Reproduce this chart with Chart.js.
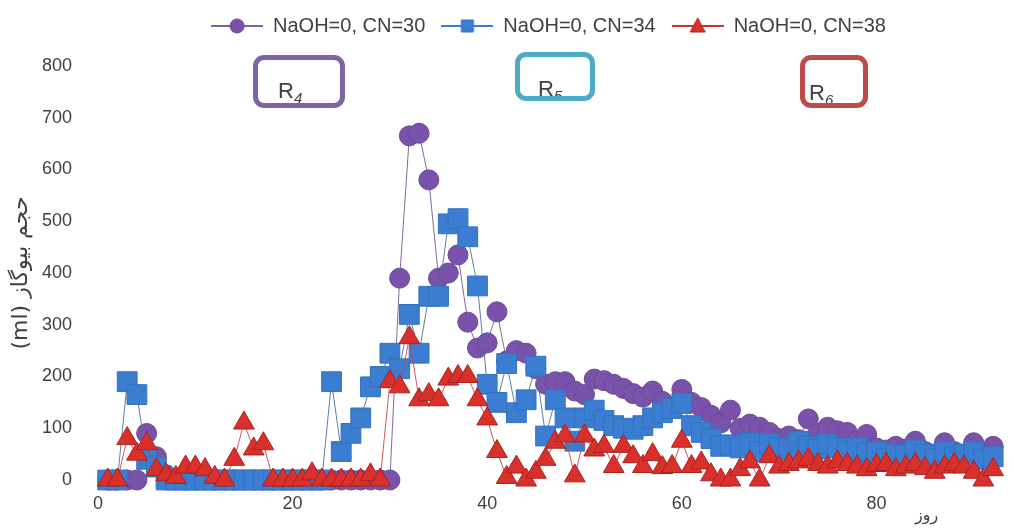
<!DOCTYPE html>
<html>
<head>
<meta charset="utf-8">
<script src="https://cdn.jsdelivr.net/npm/chart.js@4.4.1/dist/chart.umd.min.js"></script>
<style>
  html, body { margin: 0; padding: 0; background: #fff; }
  #wrap { position: relative; width: 1014px; height: 529px; overflow: hidden; }
  #chart { display: block; }
  .tag { position: absolute; box-sizing: border-box; border: 5px solid; border-radius: 11px; overflow: hidden;
         font-family: 'Liberation Sans', 'DejaVu Sans', sans-serif; color: #404040; background: #fff; }
  .tag span { position: absolute; font-size: 22px; line-height: 22px; }
  .tag sub { font-size: 15px; font-style: italic; vertical-align: -5px; }
  #xTitle { position: absolute; left: 915px; top: 505px; font: 16px 'DejaVu Sans', sans-serif; color: #404040; direction: rtl; }
</style>
</head>
<body>
<div id="wrap">
  <canvas id="chart" width="1014" height="529" dir="rtl"></canvas>
  <div class="tag" style="left:253px;top:55px;width:92px;height:53px;border-color:#7e64a6;"><span style="left:20px;top:20px;">R<sub>4</sub></span></div>
  <div class="tag" style="left:515px;top:52px;width:80px;height:49px;border-color:#4bacc6;"><span style="left:18px;top:21px;">R<sub>5</sub></span></div>
  <div class="tag" style="left:800px;top:55px;width:68px;height:53px;border-color:#bf4b48;"><span style="left:4px;top:22px;">R<sub>6</sub></span></div>
  <div id="xTitle">روز</div>
</div>
<script>
// --- DATA ---
const days = [1, 2, 3, 4, 5, 6, 7, 8, 9, 10, 11, 12, 13, 14, 15, 16, 17, 18, 19, 20,
  21, 22, 23, 24, 25, 26, 27, 28, 29, 30, 31, 32, 33, 34, 35, 36, 37, 38, 39, 40,
  41, 42, 43, 44, 45, 46, 47, 48, 49, 50, 51, 52, 53, 54, 55, 56, 57, 58, 59, 60,
  61, 62, 63, 64, 65, 66, 67, 68, 69, 70, 71, 72, 73, 74, 75, 76, 77, 78, 79, 80,
  81, 82, 83, 84, 85, 86, 87, 88, 89, 90, 91, 92];

const cn30 = [0, 0, 0, 0, 90, 45, 10, 0, 0, 0, 0, 0, 0, 0, 0, 0, 0, 0, 0, 0,
  0, 0, 0, 0, 0, 0, 0, 0, 0, 0, 390, 665, 670, 580, 390, 400, 435, 305, 255, 265,
  325, 230, 250, 245, 215, 185, 190, 190, 172, 165, 195, 192, 185, 177, 167, 160, 172, 152, 140, 175,
  150, 140, 125, 110, 135, 100, 108, 102, 92, 80, 85, 78, 118, 90, 102, 95, 92, 75, 88, 62,
  58, 65, 60, 75, 55, 50, 72, 55, 48, 72, 52, 65];

const cn34 = [0, 0, 190, 165, 40, 25, 0, 0, 0, 0, 0, 0, 0, 0, 0, 0, 0, 0, 0, 0,
  0, 0, 0, 190, 55, 90, 120, 180, 200, 245, 215, 320, 245, 355, 355, 495, 505, 470, 375, 185,
  150, 225, 130, 155, 220, 85, 155, 120, 75, 120, 135, 115, 105, 100, 98, 105, 120, 130, 138, 148,
  105, 92, 80, 65, 68, 62, 72, 55, 70, 62, 58, 75, 65, 60, 70, 62, 55, 62, 52, 55,
  42, 50, 48, 58, 50, 42, 55, 45, 50, 55, 40, 45];

const cn38 = [0, 0, 80, 50, 70, 20, 10, 5, 25, 25, 20, 5, 0, 40, 110, 60, 70, 0, 0, 0,
  0, 12, 0, 0, 0, 0, 0, 10, 0, 190, 180, 275, 155, 165, 155, 195, 200, 200, 155, 118,
  55, 5, 25, 0, 15, 40, 73, 85, 8, 85, 58, 65, 26, 65, 45, 26, 49, 24, 26, 75,
  26, 33, 10, 0, 0, 20, 35, 0, 45, 25, 30, 35, 40, 30, 25, 35, 30, 25, 20, 28,
  30, 20, 25, 30, 22, 15, 25, 30, 25, 15, 0, 20];

const seriesNames = ['NaOH=0, CN=30', 'NaOH=0, CN=34', 'NaOH=0, CN=38'];
const xTicks = [0, 20, 40, 60, 80];
const yTicks = [0, 100, 200, 300, 400, 500, 600, 700, 800];

// --- STYLE ---
const purple = '#7b52ab';
const blue = '#3b7dd0';
const red = '#d9302c';
const textColor = '#404040';

Chart.defaults.font.family = "'Liberation Sans', 'DejaVu Sans', sans-serif";
Chart.defaults.color = textColor;

// legend icon: line with marker in the middle
function makeIcon(shape, fill, stroke, lineColor) {
  const c = document.createElement('canvas');
  c.width = 52;
  c.height = 20;
  const g = c.getContext('2d');
  g.strokeStyle = lineColor;
  g.lineWidth = 2;
  g.beginPath();
  g.moveTo(0, 10);
  g.lineTo(52, 10);
  g.stroke();
  g.fillStyle = fill;
  g.strokeStyle = stroke;
  g.lineWidth = 1;
  g.beginPath();
  if (shape === 'circle') {
    g.arc(26, 10, 7, 0, Math.PI * 2);
  } else if (shape === 'rect') {
    g.rect(20, 4, 12, 12);
  } else {
    g.moveTo(26, 2);
    g.lineTo(33.5, 16);
    g.lineTo(18.5, 16);
    g.closePath();
  }
  g.fill();
  g.stroke();
  return c;
}

const icons = [
  makeIcon('circle', purple, '#6a4a94', '#7d62aa'),
  makeIcon('rect', blue, '#3372c0', '#3b7dd0'),
  makeIcon('triangle', red, '#a8231f', '#c0393a'),
];

function toPoints(values) {
  return days.map((d, i) => ({ x: d, y: values[i] }));
}

new Chart(document.getElementById('chart'), {
  type: 'line',
  data: {
    datasets: [
      {
        label: seriesNames[0],
        data: toPoints(cn30),
        order: 3,
        borderColor: 'rgba(110,90,150,0.9)',
        borderWidth: 1,
        pointStyle: 'circle',
        pointRadius: 10,
        pointBackgroundColor: purple,
        pointBorderColor: '#6a4a94',
        pointBorderWidth: 1,
        clip: false,
      },
      {
        label: seriesNames[1],
        data: toPoints(cn34),
        order: 2,
        borderColor: 'rgba(80,110,160,0.9)',
        borderWidth: 1,
        pointStyle: 'rect',
        pointRadius: 14,
        pointBackgroundColor: blue,
        pointBorderColor: '#3372c0',
        pointBorderWidth: 1,
        clip: false,
      },
      {
        label: seriesNames[2],
        data: toPoints(cn38),
        order: 1,
        borderColor: 'rgba(200,70,70,0.9)',
        borderWidth: 1,
        pointStyle: 'triangle',
        pointRadius: 12,
        pointBackgroundColor: red,
        pointBorderColor: '#a8231f',
        pointBorderWidth: 1,
        clip: false,
      },
    ],
  },
  options: {
    responsive: false,
    animation: false,
    layout: { padding: { top: 0, right: 2, bottom: 0, left: 0 } },
    plugins: {
      legend: {
        position: 'top',
        fullSize: false,
        labels: {
          usePointStyle: true,
          pointStyleWidth: 52,
          padding: 16,
          color: textColor,
          font: { size: 20 },
          sort: (a, b) => a.datasetIndex - b.datasetIndex,
          generateLabels: (chart) =>
            Chart.defaults.plugins.legend.labels.generateLabels(chart).map((l) => ({ ...l, pointStyle: icons[l.datasetIndex] })),
        },
      },
      // empty spacer between legend and plot
      subtitle: { display: true, text: '', position: 'top', weight: 500, font: { size: 20, lineHeight: 1 }, padding: 0 },
      tooltip: { enabled: false },
    },
    scales: {
      x: {
        type: 'linear',
        min: 0,
        max: 92.6,
        grid: { display: false },
        border: { display: false },
        ticks: { padding: 5, color: textColor, font: { size: 18 } },
        afterBuildTicks: (s) => { s.ticks = xTicks.map((v) => ({ value: v })); },
        afterFit: (s) => { s.height = 49; },
      },
      y: {
        min: 0,
        max: 800,
        grid: { display: false },
        border: { display: false },
        ticks: { padding: 18, color: textColor, font: { size: 18 } },
        afterBuildTicks: (s) => { s.ticks = yTicks.map((v) => ({ value: v })); },
        afterFit: (s) => { s.width = 98; },
        title: {
          display: true,
          text: 'حجم بیوگاز (ml)',
          color: textColor,
          font: { family: "'DejaVu Sans', sans-serif", size: 22 },
          padding: { top: 8, bottom: 0 },
        },
      },
    },
  },
});
</script>
</body>
</html>
